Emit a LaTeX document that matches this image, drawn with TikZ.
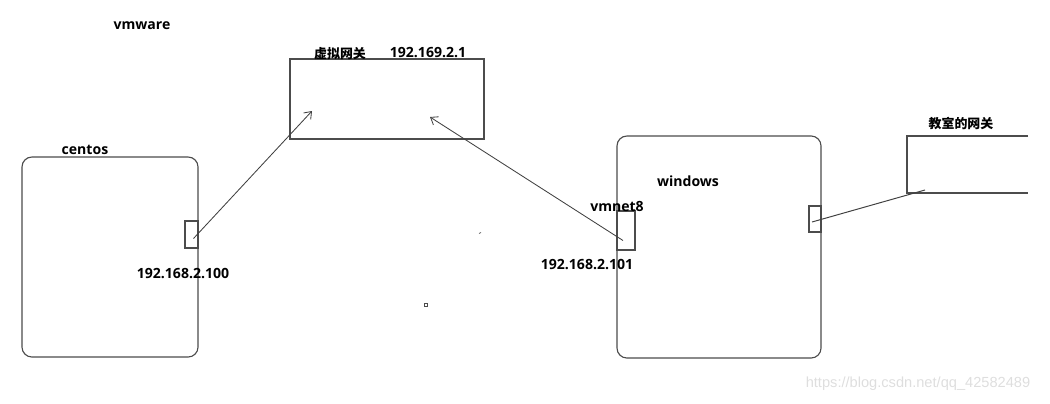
\documentclass[tikz,border=0pt]{standalone}
\usepackage{fontspec}
\setmainfont{Open Sans}
\newfontfamily\cjk{Noto Sans CJK SC}
\newfontfamily\wmfont{Liberation Sans}
\usetikzlibrary{arrows.meta}

\begin{document}
\begin{tikzpicture}[x=0.025cm,y=-0.025cm,
  box/.style={draw=black!70,line width=0.8pt,inner sep=0pt},
  host/.style={box,rounded corners=0.25cm},
  port/.style={box},
  lbl/.style={font=\bfseries\fontsize{10}{12}\selectfont,inner sep=0pt},
  cjklbl/.style={font=\cjk\bfseries\fontsize{9.2}{11}\selectfont,inner sep=0pt},
  link/.style={draw=black!75,line width=0.6pt,-{Straight Barb[length=1.6mm,width=2.4mm]}}]
\useasboundingbox (0,0) rectangle (1050,403);
% vmware side
\node[lbl] (vmw) at (142,26) {vmware};
\node[box,minimum width=4.85cm,minimum height=2cm] (vgw) at (387,99) {};
\node[cjklbl] (vgwname) at (340,54) {虚拟网关};
\node[lbl] (vgwip) at (428,52) {192.169.2.1};
\node[host,minimum width=4.4cm,minimum height=5cm] (cent) at (110,257) {};
\node[lbl] (centname) at (85,150) {centos};
\node[port,minimum width=0.325cm,minimum height=0.675cm] (cport) at (191.5,234.5) {};
\node[lbl] (centip) at (183,273) {192.168.2.100};
% windows side
\node[host,minimum width=5.1cm,minimum height=5.55cm] (win) at (719,247) {};
\node[lbl] (winname) at (688,181) {windows};
\node[port,minimum width=0.45cm,minimum height=0.975cm] (vport) at (626,230.5) {};
\node[lbl] (vportname) at (617,206) {vmnet8};
\node[lbl] (winip) at (587,264) {192.168.2.101};
\node[port,minimum width=0.3cm,minimum height=0.65cm] (wport) at (815,219) {};
% classroom gateway, open at the right edge
\draw[black!70,line width=0.8pt] (1028,136) -- (907,136) -- (907,193) -- (1028,193);
\node[cjklbl] (cgwname) at (961,124) {教室的网关};
% links
\coordinate (vgin1) at (312,111);
\coordinate (vgin2) at (430,117);
\coordinate (cgin) at (925,190);
\draw[link] ([shift={(2,4)}]cport.center) -- (vgin1);
\draw[link] ([shift={(-3,10)}]vport.center) -- (vgin2);
\draw[draw=black!75,line width=0.7pt] ([shift={(-3,3)}]wport.center) -- (cgin);
% stray marks
\draw[black!70,line width=0.5pt] (424.5,303.5) rectangle (427.5,306.5);
\draw[black!60,line width=0.5pt] (479,233.5) -- (481,232.5);
% watermark
\node[font=\wmfont\fontsize{10.4}{12}\selectfont,text=black!13,inner sep=0pt] (wm) at (918,384) {https://blog.csdn.net/qq\_42582489};
\end{tikzpicture}
\end{document}
